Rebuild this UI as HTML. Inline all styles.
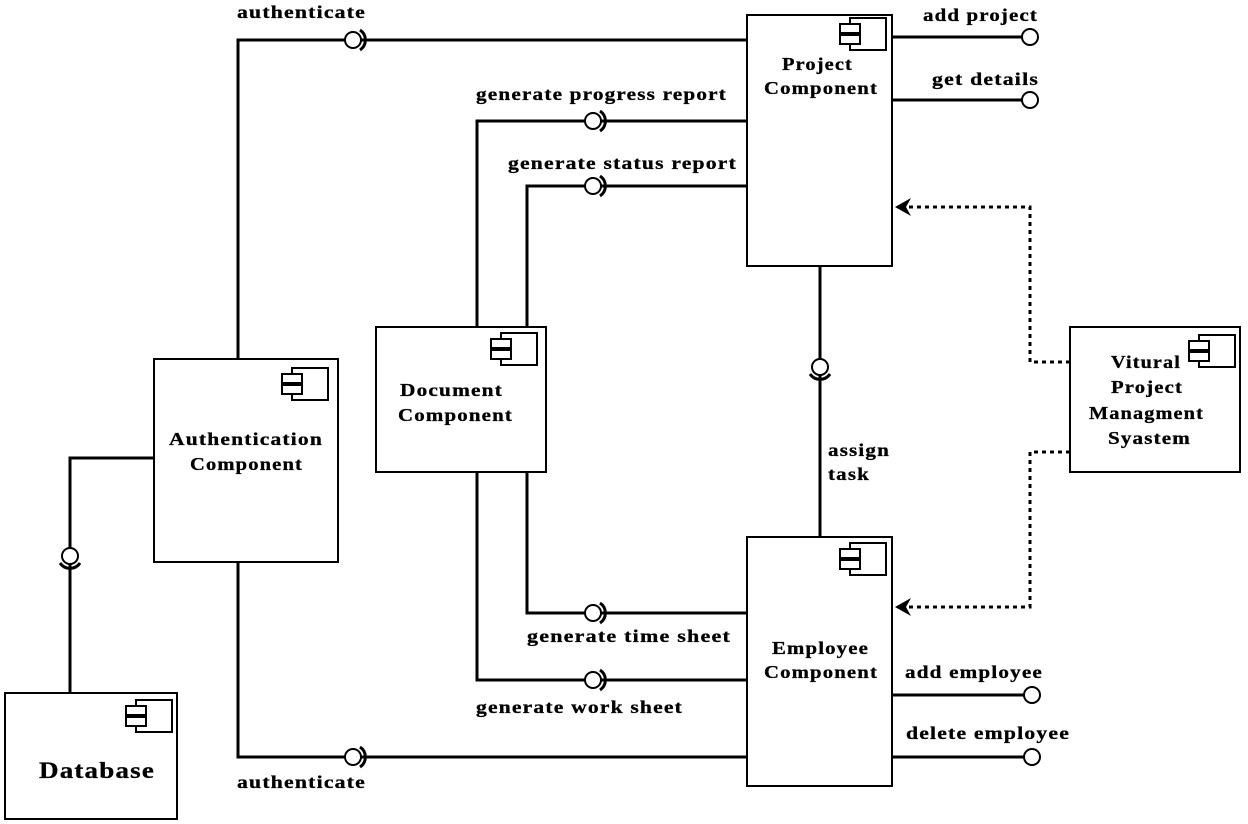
<!DOCTYPE html>
<html><head><meta charset="utf-8"><style>
html,body{margin:0;padding:0;background:#fff;}
svg{display:block;}
text{font-family:"Liberation Serif",serif;font-weight:bold;font-size:18px;letter-spacing:1px;fill:#000;stroke:#000;stroke-width:0.3px;}
.ln{stroke:#000;stroke-width:3;fill:none;}
.bx{stroke:#000;stroke-width:2;fill:#fff;}
.ic{stroke:#000;stroke-width:2;fill:#fff;}
.dot{stroke:#000;stroke-width:3;fill:none;stroke-dasharray:4,4;}
</style></head><body>
<svg width="1248" height="824" viewBox="0 0 1248 824">
<defs>
<g id="icon"><rect class="ic" x="10" y="0" width="36" height="32"/><rect class="ic" x="0" y="6" width="20" height="9"/><rect class="ic" x="0" y="17" width="20" height="9"/></g>
</defs>
<g>
<polyline class="ln" points="238,359 238,40 747,40"/>
<polyline class="ln" points="477,327 477,121 747,121"/>
<polyline class="ln" points="527,327 527,186 747,186"/>
<line class="ln" x1="820" y1="266" x2="820" y2="537"/>
<polyline class="ln" points="527,472 527,613 747,613"/>
<polyline class="ln" points="477,472 477,680 747,680"/>
<polyline class="ln" points="238,562 238,757 747,757"/>
<polyline class="ln" points="154,458 70,458 70,693"/>
<line class="ln" x1="892" y1="37" x2="1022" y2="37"/>
<line class="ln" x1="892" y1="100" x2="1022" y2="100"/>
<line class="ln" x1="892" y1="695" x2="1024" y2="695"/>
<line class="ln" x1="892" y1="757" x2="1024" y2="757"/>
<polyline class="dot" points="1070,362 1030,362 1030,207 905,207"/>
<polyline class="dot" points="1070,452 1030,452 1030,607 905,607"/>
<polygon points="895,207 911,198 906,207 911,216" fill="#000"/>
<polygon points="895,607 911,598 906,607 911,616" fill="#000"/>
</g>
<g>
<g><circle cx="353" cy="40" r="8" fill="#fff" stroke="#000" stroke-width="2"/><path d="M360,30 A12,12 0 0 1 360,50" class="ln" stroke-width="2.5"/></g>
<g><circle cx="593" cy="121" r="8" fill="#fff" stroke="#000" stroke-width="2"/><path d="M600,111 A12,12 0 0 1 600,131" class="ln" stroke-width="2.5"/></g>
<g><circle cx="593" cy="186" r="8" fill="#fff" stroke="#000" stroke-width="2"/><path d="M600,176 A12,12 0 0 1 600,196" class="ln" stroke-width="2.5"/></g>
<g><circle cx="593" cy="613" r="8" fill="#fff" stroke="#000" stroke-width="2"/><path d="M600,603 A12,12 0 0 1 600,623" class="ln" stroke-width="2.5"/></g>
<g><circle cx="593" cy="680" r="8" fill="#fff" stroke="#000" stroke-width="2"/><path d="M600,670 A12,12 0 0 1 600,690" class="ln" stroke-width="2.5"/></g>
<g><circle cx="353" cy="757" r="8" fill="#fff" stroke="#000" stroke-width="2"/><path d="M360,747 A12,12 0 0 1 360,767" class="ln" stroke-width="2.5"/></g>
<g><circle cx="820" cy="367" r="8" fill="#fff" stroke="#000" stroke-width="2"/><path d="M810,374 A12,12 0 0 0 830,374" class="ln" stroke-width="2.5"/></g>
<g><circle cx="70" cy="556" r="8" fill="#fff" stroke="#000" stroke-width="2"/><path d="M60,563 A12,12 0 0 0 80,563" class="ln" stroke-width="2.5"/></g>
<circle cx="1030" cy="37" r="8" fill="#fff" stroke="#000" stroke-width="2"/>
<circle cx="1030" cy="100" r="8" fill="#fff" stroke="#000" stroke-width="2"/>
<circle cx="1032" cy="695" r="8" fill="#fff" stroke="#000" stroke-width="2"/>
<circle cx="1032" cy="757" r="8" fill="#fff" stroke="#000" stroke-width="2"/>
</g>
<g>
<rect class="bx" x="747" y="15" width="145" height="251"/><use href="#icon" x="840" y="18"/>
<text x="782" y="70" textLength="71" lengthAdjust="spacingAndGlyphs">Project</text><text x="764" y="94" textLength="114" lengthAdjust="spacingAndGlyphs">Component</text></g>
<g>
<rect class="bx" x="376" y="327" width="170" height="145"/><use href="#icon" x="491" y="333"/>
<text x="400" y="396" textLength="103" lengthAdjust="spacingAndGlyphs">Document</text><text x="398" y="421" textLength="115" lengthAdjust="spacingAndGlyphs">Component</text></g>
<g>
<rect class="bx" x="154" y="359" width="184" height="203"/><use href="#icon" x="282" y="368"/>
<text x="169" y="445" textLength="154" lengthAdjust="spacingAndGlyphs">Authentication</text><text x="190" y="470" textLength="113" lengthAdjust="spacingAndGlyphs">Component</text></g>
<g>
<rect class="bx" x="747" y="537" width="145" height="249"/><use href="#icon" x="840" y="543"/>
<text x="772" y="654" textLength="97" lengthAdjust="spacingAndGlyphs">Employee</text><text x="764" y="678" textLength="114" lengthAdjust="spacingAndGlyphs">Component</text></g>
<g>
<rect class="bx" x="1070" y="327" width="170" height="145"/><use href="#icon" x="1189" y="335"/>
<text x="1111" y="368" textLength="70" lengthAdjust="spacingAndGlyphs">Vitural</text><text x="1111" y="393" textLength="72" lengthAdjust="spacingAndGlyphs">Project</text>
<text x="1089" y="419" textLength="115" lengthAdjust="spacingAndGlyphs">Managment</text><text x="1108" y="444" textLength="83" lengthAdjust="spacingAndGlyphs">Syastem</text></g>
<g>
<rect class="bx" x="5" y="693" width="172" height="126"/><use href="#icon" x="126" y="700"/>
<text x="39" y="778" style="font-size:23px" textLength="116" lengthAdjust="spacingAndGlyphs">Database</text></g>
<text x="237" y="18" textLength="129" lengthAdjust="spacingAndGlyphs">authenticate</text>
<text x="476" y="100" textLength="251" lengthAdjust="spacingAndGlyphs">generate progress report</text>
<text x="508" y="169" textLength="229" lengthAdjust="spacingAndGlyphs">generate status report</text>
<text x="923" y="21" textLength="115" lengthAdjust="spacingAndGlyphs">add project</text>
<text x="932" y="85" textLength="107" lengthAdjust="spacingAndGlyphs">get details</text>
<text x="828" y="456" textLength="62" lengthAdjust="spacingAndGlyphs">assign</text>
<text x="828" y="480" textLength="42" lengthAdjust="spacingAndGlyphs">task</text>
<text x="527" y="642" textLength="204" lengthAdjust="spacingAndGlyphs">generate time sheet</text>
<text x="476" y="713" textLength="207" lengthAdjust="spacingAndGlyphs">generate work sheet</text>
<text x="905" y="678" textLength="138" lengthAdjust="spacingAndGlyphs">add employee</text>
<text x="906" y="739" textLength="164" lengthAdjust="spacingAndGlyphs">delete employee</text>
<text x="237" y="788" textLength="129" lengthAdjust="spacingAndGlyphs">authenticate</text>
</svg>
</body></html>
